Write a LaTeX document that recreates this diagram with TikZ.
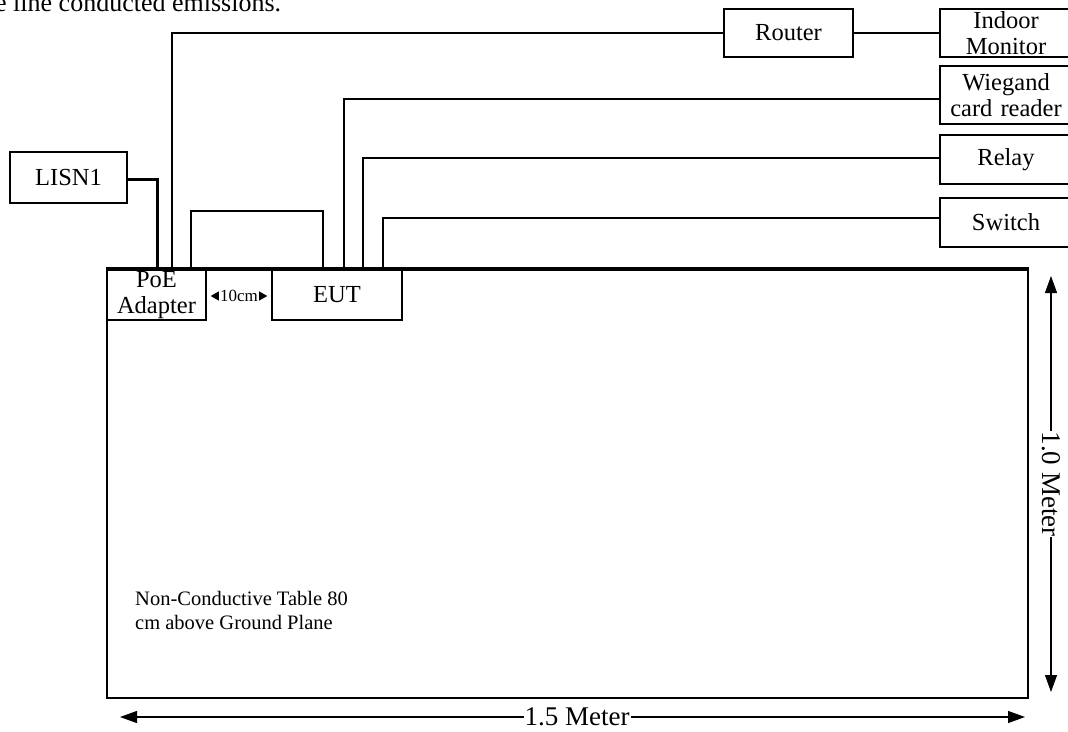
\documentclass[tikz,border=0pt]{standalone}
\usepackage{fontspec}
\setmainfont{Liberation Serif}
\usetikzlibrary{arrows.meta,positioning,calc}
\tikzset{
  unitbox/.style={draw,line width=1.5pt,inner sep=0pt,font=\fontsize{24.5}{26}\selectfont,align=center},
  wire/.style={line width=1.8pt},
  dimline/.style={line width=1.2pt,{Triangle[length=17pt,width=12pt]}-{Triangle[length=17pt,width=12pt]}},
  dimlabel/.style={fill=white,inner sep=1pt,font=\fontsize{27}{28}\selectfont}
}
\begin{document}
\begin{tikzpicture}[x=1pt,y=-1pt]
  \useasboundingbox (0,0) rectangle (1068,731);
  \clip (0,0) rectangle (1068,731);
  \node[anchor=base west,inner sep=0pt,font=\fontsize{26}{28}\selectfont] (caption) at (-5,11) {e line conducted emissions.};
  % table
  \node[draw,line width=2.4pt,minimum width=921pt,minimum height=428pt] (table) at (567.5,484) {};
  \draw[line width=3.2pt] (table.north west) -- (table.north east);
  \node[align=left,anchor=west,inner sep=0pt,font=\fontsize{20.5}{24}\selectfont] (tabletext) at (135,610) {Non-Conductive Table 80\\cm above Ground Plane};
  % units on the table
  \node[unitbox,minimum width=99pt,minimum height=50pt] (poe) at (156.5,295) {PoE\\Adapter};
  \node[unitbox,minimum width=130pt,minimum height=50pt] (eut) at (337,295) {EUT};
  \draw[line width=1pt,{Triangle[length=9pt,width=10pt]}-{Triangle[length=9pt,width=10pt]}] (poe.east) ++(4,1) coordinate (gapl) -- ($(eut.west)+(-4,1)$) coordinate (gapr)
    node[midway,fill=white,inner xsep=1pt,inner ysep=1pt,font=\fontsize{17}{18}\selectfont] (gap) {10cm};
  % peripherals
  \node[unitbox,minimum width=117pt,minimum height=51pt] (lisn) at (68.5,177.5) {LISN1};
  \node[unitbox,minimum width=129pt,minimum height=48pt] (router) at (788.5,33) {Router};
  \node[unitbox,minimum width=132pt,minimum height=48pt,text width=128pt] (monitor) at (1006,33) {Indoor\\Monitor};
  \node[unitbox,minimum width=132pt,minimum height=58pt,text width=128pt] (wiegand) at (1006,95) {Wiegand\\card reader};
  \node[unitbox,minimum width=132pt,minimum height=49pt,text width=128pt] (relay) at (1006,159.5) {Relay};
  \node[unitbox,minimum width=132pt,minimum height=49pt,text width=128pt] (switch) at (1006,222.5) {Switch};
  % cables
  \draw[line width=3pt] (lisn.east |- 0,179) -| (157,270);
  \draw[wire] (172,270) |- (router.west);
  \draw[wire] (router.east) -- (monitor.west);
  \draw[wire] (191,270) |- (323,211) -- (323,270);
  \foreach \x/\y/\u in {344/99/wiegand,363/158/relay,383/218/switch}{
    \draw[wire] (\x,270) |- (\u.west |- 0,\y);
  }
  % dimensions
  \coordinate (vtop) at (1051,276);
  \coordinate (vbot) at (1051,692);
  \draw[dimline] (vtop) -- (vbot) node[midway,dimlabel,rotate=-90] (vlabel) {1.0 Meter};
  \coordinate (hleft) at (120,717);
  \coordinate (hright) at (1025,717);
  \draw[dimline] (hleft) -- (hright) node[pos=0.505,dimlabel] (hlabel) {1.5 Meter};
\end{tikzpicture}
\end{document}
